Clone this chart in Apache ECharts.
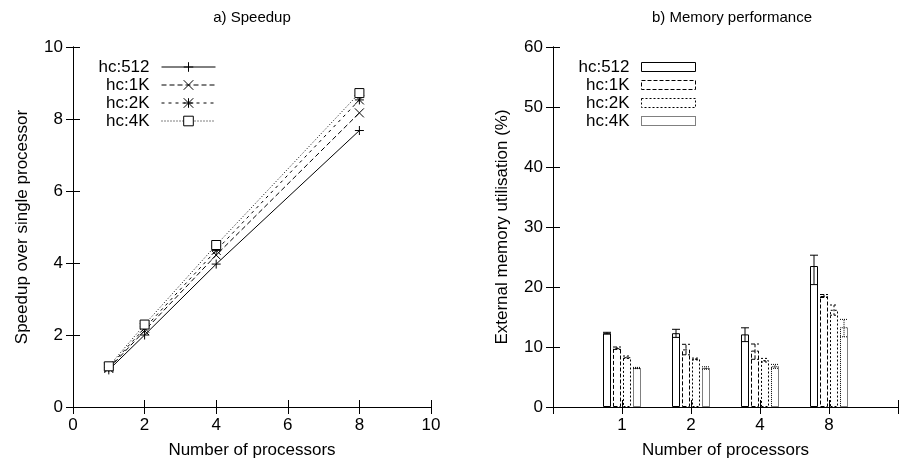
<!DOCTYPE html>
<html><head><meta charset="utf-8">
<script src="https://cdn.jsdelivr.net/npm/echarts@6/dist/echarts.min.js"></script>
<style>html,body{margin:0;padding:0;background:#fff}#c{width:901px;height:465px}</style>
</head><body><div id="c"></div>
<script>
// ---- data ----
const seriesNames = ['hc:512', 'hc:1K', 'hc:2K', 'hc:4K'];
const procs = [1, 2, 4, 8];
const speedup512 = [1.03, 2.00, 3.97, 7.68];
const speedup1K  = [1.07, 2.12, 4.22, 8.17];
const speedup2K  = [1.10, 2.19, 4.35, 8.53];
const speedup4K  = [1.13, 2.29, 4.50, 8.72];

const memCategories = ['1', '2', '4', '8'];
const mem512 = [12.3, 12.3, 12.1, 23.5];
const mem512Low = [12.15, 11.6, 10.9, 20.4];
const mem512High = [12.45, 12.95, 13.2, 25.3];
const mem1K = [9.8, 9.6, 9.4, 18.5];
const mem1KLow = [9.6, 8.7, 7.95, 18.25];
const mem1KHigh = [10.0, 10.45, 10.5, 18.75];
const mem2K = [8.3, 8.0, 7.8, 16.2];
const mem2KLow = [8.1, 7.85, 7.5, 15.3];
const mem2KHigh = [8.5, 8.15, 8.1, 17.0];
const mem4K = [6.5, 6.5, 6.8, 13.3];
const mem4KLow = [6.4, 6.3, 6.45, 11.7];
const mem4KHigh = [6.6, 6.7, 7.1, 14.6];

const speedTicks = [0, 2, 4, 6, 8, 10];
const memTicks = [0, 10, 20, 30, 40, 50, 60];

// ---- styles ----
const FONT = 'Liberation Sans';
const FS = 17;
const lineDashes = ['solid', [5, 3], [3, 4], [1, 2]];
const barDashes = ['solid', [4, 2], [2, 2], [1, 1]];
const symbols = [
  'path://M5,0V10M0,5H10',
  'path://M0,0L10,10M10,0L0,10',
  'path://M0,0L10,10M10,0L0,10M5,0V10M0,5H10',
  'rect'
];
const BAR_W = 8, BAR_GAP = 2;

const chart = echarts.init(document.getElementById('c'), null, {renderer: 'canvas'});

const speedData = [speedup512, speedup1K, speedup2K, speedup4K];
const memData = [mem512, mem1K, mem2K, mem4K];
const memLow = [mem512Low, mem1KLow, mem2KLow, mem4KLow];
const memHigh = [mem512High, mem1KHigh, mem2KHigh, mem4KHigh];

const axisCommon = {
  axisLine: {show: true, lineStyle: {color: '#000', width: 1}},
  axisTick: {show: true, inside: true, length: 7, lineStyle: {color: '#000', width: 1}},
  splitLine: {show: false},
  axisLabel: {color: '#000', fontFamily: FONT, fontSize: FS, margin: 10},
  nameTextStyle: {color: '#000', fontFamily: FONT, fontSize: FS}
};
function ax(extra) { return Object.assign({}, JSON.parse(JSON.stringify(axisCommon)), extra); }

const series = [];
speedData.forEach((arr, si) => {
  series.push({
    type: 'line', name: seriesNames[si], xAxisIndex: 0, yAxisIndex: 0,
    data: procs.map((p, i) => [p, arr[i]]),
    symbol: symbols[si], symbolSize: 9, showSymbol: true,
    lineStyle: {color: '#000', width: 1, type: lineDashes[si]},
    itemStyle: {color: si === 3 ? '#fff' : '#000', borderColor: '#000', borderWidth: 1},
    emphasis: {disabled: true}, z: 3
  });
});
memData.forEach((arr, si) => {
  series.push({
    type: 'bar', name: 'mem:' + seriesNames[si], xAxisIndex: 2, yAxisIndex: 2,
    data: memCategories.map((c, i) => [i + 1, arr[i]]),
    barWidth: BAR_W, barGap: (BAR_GAP / BAR_W * 100) + '%',
    itemStyle: {color: '#fff', borderColor: '#000', borderWidth: 1, borderType: barDashes[si]},
    emphasis: {disabled: true}
  });
});
memData.forEach((arr, si) => {
  series.push({
    type: 'custom', name: 'err:' + seriesNames[si], xAxisIndex: 2, yAxisIndex: 2,
    data: memCategories.map((c, i) => [i + 1, memLow[si][i], memHigh[si][i]]),
    z: 5, silent: true,
    renderItem: function (params, api) {
      const x = api.value(0);
      const pLo = api.coord([x, api.value(1)]);
      const pHi = api.coord([x, api.value(2)]);
      const off = (si - 1.5) * (BAR_W + BAR_GAP);
      const cx = pLo[0] + off;
      const hw = BAR_W / 2;
      const dash = barDashes[si] === 'solid' ? null : barDashes[si];
      const st = {stroke: '#000', lineWidth: 1, lineDash: dash};
      return {type: 'group', children: [
        {type: 'line', shape: {x1: cx, y1: pLo[1], x2: cx, y2: pHi[1]}, style: st},
        {type: 'line', shape: {x1: cx - hw, y1: pLo[1], x2: cx + hw, y2: pLo[1]}, style: st},
        {type: 'line', shape: {x1: cx - hw, y1: pHi[1], x2: cx + hw, y2: pHi[1]}, style: st}
      ]};
    }
  });
});

const legendText = {fontFamily: FONT, fontSize: FS, color: '#000', lineHeight: 18, padding: [0, 7, 0, 0]};

const option = {
  animation: false,
  backgroundColor: '#fff',
  textStyle: {fontFamily: FONT, color: '#000'},
  graphic: [
    {type: 'text', x: 252, y: 18, style: {text: 'a) Speedup', font: '15px "' + FONT + '"', fill: '#000', textAlign: 'center', textVerticalAlign: 'middle'}},
    {type: 'text', x: 732, y: 18, style: {text: 'b) Memory performance', font: '15px "' + FONT + '"', fill: '#000', textAlign: 'center', textVerticalAlign: 'middle'}}
  ],
  grid: [
    {left: 73, right: 470, top: 47, bottom: 58},
    {left: 553, right: -10, top: 47, bottom: 58}
  ],
  legend: [
    {
      data: seriesNames.map((n, si) => ({
        name: n,
        lineStyle: {width: 1, type: lineDashes[si], color: '#000'},
        itemStyle: {borderWidth: 1, borderColor: '#000', color: si === 3 ? '#fff' : '#000'}
      })),
      right: 685, top: 58, orient: 'vertical', align: 'right',
      padding: 0, itemGap: 0, itemWidth: 54, itemHeight: 12,
      textStyle: legendText, selectedMode: false
    },
    {
      data: seriesNames.map((n, si) => ({
        name: 'mem:' + n, icon: 'rect',
        itemStyle: {borderWidth: 1, borderColor: '#000', color: '#fff', borderType: barDashes[si]}
      })),
      right: 205, top: 58, orient: 'vertical', align: 'right',
      padding: 0, itemGap: 0, itemWidth: 54, itemHeight: 9,
      formatter: n => n.replace('mem:', ''),
      textStyle: legendText, selectedMode: false
    }
  ],
  xAxis: [
    ax({type: 'value', gridIndex: 0, position: 'bottom', min: speedTicks[0], max: speedTicks[speedTicks.length - 1], interval: 2,
        name: 'Number of processors', nameLocation: 'middle', nameGap: 35}),
    ax({type: 'value', gridIndex: 0, position: 'top', min: speedTicks[0], max: speedTicks[speedTicks.length - 1], interval: 2,
        axisLabel: {show: false}}),
    ax({type: 'value', gridIndex: 1, position: 'bottom', min: 0, max: memCategories.length + 1, interval: 1,
        axisLabel: {color: '#000', fontFamily: FONT, fontSize: FS, margin: 10,
          formatter: v => (v >= 1 && v <= memCategories.length) ? memCategories[v - 1] : ''},
        name: 'Number of processors', nameLocation: 'middle', nameGap: 35}),
    ax({type: 'value', gridIndex: 1, position: 'top', min: 0, max: memCategories.length + 1, interval: 1,
        axisLabel: {show: false}})
  ],
  yAxis: [
    ax({type: 'value', gridIndex: 0, position: 'left', min: speedTicks[0], max: speedTicks[speedTicks.length - 1], interval: 2,
        name: 'Speedup over single processor', nameLocation: 'middle', nameGap: 42}),
    ax({type: 'value', gridIndex: 0, position: 'right', min: speedTicks[0], max: speedTicks[speedTicks.length - 1], interval: 2,
        axisLabel: {show: false}}),
    ax({type: 'value', gridIndex: 1, position: 'left', min: memTicks[0], max: memTicks[memTicks.length - 1], interval: 10,
        name: 'External memory utilisation (%)', nameLocation: 'middle', nameGap: 42}),
    ax({type: 'value', gridIndex: 1, position: 'right', min: memTicks[0], max: memTicks[memTicks.length - 1], interval: 10,
        axisLabel: {show: false}})
  ],
  series: series
};
chart.setOption(option);
</script>
</body></html>
